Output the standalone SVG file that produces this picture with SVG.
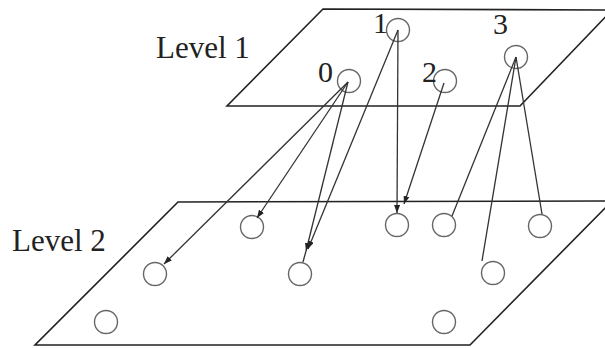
<svg xmlns="http://www.w3.org/2000/svg" width="605" height="348" viewBox="0 0 605 348">
<defs>
<marker id="ah" markerWidth="9" markerHeight="6" refX="8" refY="3" orient="auto" markerUnits="userSpaceOnUse">
<path d="M0,0 L8,3 L0,6 z" fill="#222"/>
</marker>
<style>
.plane{fill:none;stroke:#222;stroke-width:1.6}
.node circle{fill:none;stroke:#666;stroke-width:1.4}
.edge{stroke:#333;stroke-width:1.3;fill:none}
.arr{marker-end:url(#ah)}
text{fill:#222}
.lvl{font-size:31px}
.num{font-size:30px}
</style>
</defs>
<rect width="605" height="348" fill="#fff"/>
<g id="plane1">
<polygon class="plane" points="323,9 612,10 520,106 227,106"/>
<text class="lvl" x="156" y="58" font-family="'Liberation Serif', serif">Level 1</text>
</g>
<g id="plane2">
<polygon class="plane" points="178,202 612,201 470,345 35,345"/>
<text class="lvl" x="12" y="251" font-family="'Liberation Serif', serif">Level 2</text>
</g>
<g id="n0" class="node"><circle cx="349" cy="81" r="11.5"/><text class="num" x="318" y="82" font-family="'Liberation Serif', serif">0</text></g>
<g id="n1" class="node"><circle cx="398" cy="30" r="11.5"/><text class="num" x="373" y="33" font-family="'Liberation Serif', serif">1</text></g>
<g id="n2" class="node"><circle cx="445" cy="81" r="11.5"/><text class="num" x="422" y="82" font-family="'Liberation Serif', serif">2</text></g>
<g id="n3" class="node"><circle cx="516" cy="57" r="11.5"/><text class="num" x="493" y="34" font-family="'Liberation Serif', serif">3</text></g>
<g id="m1" class="node"><circle cx="252" cy="227" r="11.5"/></g>
<g id="m2" class="node"><circle cx="397" cy="225" r="11.5"/></g>
<g id="m3" class="node"><circle cx="444" cy="225" r="11.5"/></g>
<g id="m4" class="node"><circle cx="540" cy="226" r="11.5"/></g>
<g id="m5" class="node"><circle cx="155" cy="274" r="11.5"/></g>
<g id="m6" class="node"><circle cx="300" cy="274" r="11.5"/></g>
<g id="m7" class="node"><circle cx="493" cy="273" r="11.5"/></g>
<g id="m8" class="node"><circle cx="106" cy="322" r="11.5"/></g>
<g id="m9" class="node"><circle cx="444" cy="322" r="11.5"/></g>
<g id="connectors">
<line class="edge arr" x1="348" y1="82" x2="164" y2="264"/>
<line class="edge arr" x1="348" y1="82" x2="257" y2="218"/>
<line class="edge arr" x1="348" y1="82" x2="306" y2="251"/>
<line class="edge arr" x1="398" y1="30" x2="308" y2="249"/>
<line class="edge" x1="306" y1="251" x2="303" y2="262"/>
<line class="edge arr" x1="398" y1="30" x2="397" y2="213"/>
<line class="edge arr" x1="444" y1="83" x2="404" y2="204"/>
<line class="edge" x1="516" y1="57" x2="452" y2="216"/>
<line class="edge" x1="516" y1="57" x2="482" y2="261"/>
<line class="edge" x1="516" y1="57" x2="542" y2="214"/>
</g>
</svg>
